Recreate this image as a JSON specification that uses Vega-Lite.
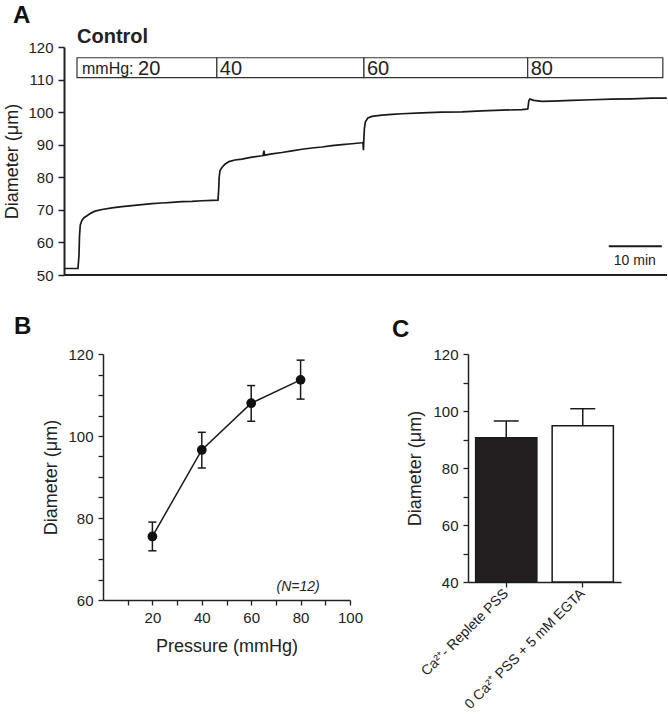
{
  "$schema": "https://vega.github.io/schema/vega-lite/v6.json",
  "padding": {"left": 3, "top": 4, "right": 0, "bottom": 0},
  "background": "white",
  "config": {
    "font": "Liberation Sans",
    "view": {"stroke": null},
    "axis": {"labelColor": "#222", "titleColor": "#222", "domainColor": "#222", "tickColor": "#222", "grid": false, "labelFont": "Liberation Sans", "titleFont": "Liberation Sans", "titleFontWeight": "normal", "labelFlush": false, "labelOverlap": false, "tickCount": 40},
    "title": {"color": "#111", "font": "Liberation Sans"}
  },
  "spacing": 32,
  "vconcat": [
    {
      "width": 564,
      "height": 228,
      "title": {"text": "A", "anchor": "start", "frame": "group", "dx": -90, "fontSize": 24, "fontWeight": "bold", "offset": -1},
      "layer": [
        {
          "data": {"values": [
            {"t": 0, "d": 52}, {"t": 2.69, "d": 52}, {"t": 2.88, "d": 56}, {"t": 2.98, "d": 62}, {"t": 3.13, "d": 65.4}, {"t": 3.46, "d": 66.8}, {"t": 3.85, "d": 67.6}, {"t": 4.42, "d": 68.2}, {"t": 5.19, "d": 69}, {"t": 5.96, "d": 69.6}, {"t": 7.31, "d": 70.1}, {"t": 9.23, "d": 70.6}, {"t": 11.15, "d": 71}, {"t": 13.08, "d": 71.3}, {"t": 15.0, "d": 71.6}, {"t": 16.92, "d": 71.9}, {"t": 18.85, "d": 72.1}, {"t": 20.77, "d": 72.3}, {"t": 22.69, "d": 72.5}, {"t": 24.62, "d": 72.6}, {"t": 26.54, "d": 72.8}, {"t": 28.46, "d": 72.9}, {"t": 29.62, "d": 73},
            {"t": 29.75, "d": 76}, {"t": 29.85, "d": 80}, {"t": 30.0, "d": 82}, {"t": 30.38, "d": 83}, {"t": 30.96, "d": 84}, {"t": 31.73, "d": 84.8}, {"t": 32.88, "d": 85.3}, {"t": 34.23, "d": 85.6}, {"t": 36.15, "d": 86.2}, {"t": 38.08, "d": 86.6}, {"t": 38.3, "d": 86.7}, {"t": 38.46, "d": 88.2}, {"t": 38.6, "d": 86.8}, {"t": 40.0, "d": 87.2}, {"t": 41.92, "d": 87.6}, {"t": 43.85, "d": 88.1}, {"t": 45.77, "d": 88.6}, {"t": 47.69, "d": 89}, {"t": 49.62, "d": 89.3}, {"t": 51.54, "d": 89.7}, {"t": 53.46, "d": 90}, {"t": 55.38, "d": 90.3}, {"t": 57.31, "d": 90.6}, {"t": 57.5, "d": 90.7},
            {"t": 57.6, "d": 88.3}, {"t": 57.69, "d": 92}, {"t": 57.79, "d": 95}, {"t": 57.98, "d": 97}, {"t": 58.46, "d": 98.2}, {"t": 59.23, "d": 98.7}, {"t": 61.15, "d": 99.1}, {"t": 63.08, "d": 99.3}, {"t": 65.0, "d": 99.5}, {"t": 68.85, "d": 99.8}, {"t": 72.69, "d": 100}, {"t": 76.54, "d": 100.1}, {"t": 80.38, "d": 100.4}, {"t": 84.23, "d": 100.6}, {"t": 88.08, "d": 100.8}, {"t": 89.04, "d": 100.9}, {"t": 89.23, "d": 101},
            {"t": 89.42, "d": 103.5}, {"t": 89.62, "d": 104}, {"t": 90.38, "d": 103.6}, {"t": 91.92, "d": 103.3}, {"t": 93.85, "d": 103.4}, {"t": 97.69, "d": 103.6}, {"t": 101.54, "d": 103.8}, {"t": 105.38, "d": 104}, {"t": 109.23, "d": 104.1}, {"t": 113.08, "d": 104.3}, {"t": 115.96, "d": 104.3}
          ]},
          "mark": {"type": "line", "color": "#1a1a1a", "strokeWidth": 1.7},
          "encoding": {
            "x": {"field": "t", "type": "quantitative", "scale": {"domain": [7.5, 116], "nice": false, "zero": false}, "axis": {"title": null, "ticks": false, "labels": false, "domain": false}},
            "y": {"field": "d", "type": "quantitative", "scale": {"domain": [50, 120], "nice": false, "zero": false}, "axis": {"title": "Diameter (μm)", "offset": 39, "values": [50, 60, 70, 80, 90, 100, 110, 120], "tickCount": 40, "labelOverlap": false, "labelFontSize": 15, "titleFontSize": 18, "tickSize": 6, "tickWidth": 1.5, "domainWidth": 2, "labelPadding": 5, "titlePadding": 6}}
          }
        },
        {
          "data": {"values": [{"label": "time axis"}]},
          "mark": {"type": "rule", "color": "#222", "strokeWidth": 2},
          "encoding": {
            "x": {"datum": 0},
            "x2": {"datum": 116},
            "y": {"datum": 50}
          }
        },
        {
          "data": {"values": [
            {"start": 2.5, "end": 29.4, "p": "20"},
            {"start": 29.4, "end": 57.7, "p": "40"},
            {"start": 57.7, "end": 89.2, "p": "60"},
            {"start": 89.2, "end": 115.2, "p": "80"}
          ]},
          "layer": [
            {
              "mark": {"type": "rect", "fill": "white", "stroke": "#333", "strokeWidth": 1.2},
              "encoding": {
                "x": {"field": "start", "type": "quantitative"},
                "x2": {"field": "end"},
                "y": {"datum": 110.6},
                "y2": {"datum": 116.7}
              }
            },
            {
              "transform": [{"filter": "datum.p != '20'"}],
              "mark": {"type": "text", "align": "left", "baseline": "alphabetic", "fontSize": 20, "dx": 3, "color": "#222"},
              "encoding": {
                "x": {"field": "start", "type": "quantitative"},
                "y": {"datum": 111.5},
                "text": {"field": "p"}
              }
            },
            {
              "transform": [{"filter": "datum.p == '20'"}],
              "mark": {"type": "text", "align": "left", "baseline": "alphabetic", "fontSize": 20, "dx": 61, "color": "#222"},
              "encoding": {
                "x": {"field": "start", "type": "quantitative"},
                "y": {"datum": 111.5},
                "text": {"field": "p"}
              }
            },
            {
              "transform": [{"filter": "datum.p == '20'"}],
              "mark": {"type": "text", "align": "left", "baseline": "alphabetic", "fontSize": 16, "dx": 5, "color": "#222", "text": "mmHg:"},
              "encoding": {
                "x": {"field": "start", "type": "quantitative"},
                "y": {"datum": 111.6}
              }
            },
            {
              "transform": [{"filter": "datum.p == '20'"}],
              "mark": {"type": "text", "align": "left", "baseline": "alphabetic", "fontSize": 20, "fontWeight": "bold", "color": "#222", "text": "Control"},
              "encoding": {
                "x": {"field": "start", "type": "quantitative"},
                "y": {"datum": 121.1}
              }
            }
          ]
        },
        {
          "data": {"values": [{"from": 104.8, "to": 115.0, "level": 58.8, "label": "10 min", "labelLevel": 53.1}]},
          "layer": [
            {
              "mark": {"type": "rule", "color": "#1a1a1a", "strokeWidth": 2},
              "encoding": {
                "x": {"field": "from", "type": "quantitative"},
                "x2": {"field": "to"},
                "y": {"field": "level", "type": "quantitative"}
              }
            },
            {
              "mark": {"type": "text", "align": "center", "baseline": "alphabetic", "fontSize": 14, "color": "#222", "dx": 26},
              "encoding": {
                "x": {"field": "from", "type": "quantitative"},
                "y": {"field": "labelLevel", "type": "quantitative"},
                "text": {"field": "label"}
              }
            }
          ]
        }
      ]
    },
    {
      "spacing": 29,
      "hconcat": [
        {
          "width": 247,
          "height": 246,
          "title": {"text": "B", "anchor": "start", "frame": "group", "dx": -89, "fontSize": 24, "fontWeight": "bold", "offset": 8},
          "layer": [
            {
              "data": {"values": [
                {"p": 20, "mean": 75.5, "lo": 72.0, "hi": 79.0},
                {"p": 40, "mean": 96.6, "lo": 92.2, "hi": 100.9},
                {"p": 60, "mean": 108.0, "lo": 103.6, "hi": 112.3},
                {"p": 80, "mean": 113.7, "lo": 109.0, "hi": 118.5}
              ]},
              "layer": [
                {
                  "mark": {"type": "line", "color": "#1a1a1a", "strokeWidth": 1.5},
                  "encoding": {
                    "x": {"field": "p", "type": "quantitative", "scale": {"domain": [0, 100], "nice": false}, "axis": {"title": "Pressure (mmHg)", "values": [10, 20, 30, 40, 50, 60, 70, 80, 90, 100], "tickCount": 40, "labelOverlap": false, "labelExpr": "datum.value % 20 === 0 ? datum.label : ''", "labelFontSize": 15, "titleFontSize": 18, "tickSize": 5, "tickWidth": 1.3, "domainWidth": 1.5, "labelPadding": 5, "titlePadding": 12}},
                    "y": {"field": "mean", "type": "quantitative", "scale": {"domain": [60, 120], "nice": false, "zero": false}, "axis": {"title": "Diameter (μm)", "values": [60, 65, 70, 75, 80, 85, 90, 95, 100, 105, 110, 115, 120], "tickCount": 40, "labelOverlap": false, "labelExpr": "datum.value % 20 === 0 ? datum.label : ''", "labelFontSize": 15, "titleFontSize": 18, "tickSize": 5, "tickWidth": 1.3, "domainWidth": 1.5, "labelPadding": 5, "titlePadding": 7}}
                  }
                },
                {
                  "mark": {"type": "rule", "color": "#1a1a1a", "strokeWidth": 1.5},
                  "encoding": {
                    "x": {"field": "p", "type": "quantitative"},
                    "y": {"field": "lo", "type": "quantitative"},
                    "y2": {"field": "hi"}
                  }
                },
                {
                  "mark": {"type": "tick", "orient": "horizontal", "size": 8, "thickness": 1.5, "color": "#1a1a1a", "opacity": 1},
                  "encoding": {
                    "x": {"field": "p", "type": "quantitative"},
                    "y": {"field": "lo", "type": "quantitative"}
                  }
                },
                {
                  "mark": {"type": "tick", "orient": "horizontal", "size": 8, "thickness": 1.5, "color": "#1a1a1a", "opacity": 1},
                  "encoding": {
                    "x": {"field": "p", "type": "quantitative"},
                    "y": {"field": "hi", "type": "quantitative"}
                  }
                },
                {
                  "mark": {"type": "point", "filled": true, "shape": "circle", "size": 95, "color": "#111", "opacity": 1},
                  "encoding": {
                    "x": {"field": "p", "type": "quantitative"},
                    "y": {"field": "mean", "type": "quantitative"}
                  }
                }
              ]
            },
            {
              "data": {"values": [{"label": "(N=12)", "px": 79, "py": 62.3}]},
              "mark": {"type": "text", "fontStyle": "italic", "fontSize": 14, "align": "center", "baseline": "alphabetic", "color": "#222"},
              "encoding": {
                "x": {"field": "px", "type": "quantitative"},
                "y": {"field": "py", "type": "quantitative"},
                "text": {"field": "label"}
              }
            }
          ]
        },
        {
          "width": 153,
          "height": 228,
          "title": {"text": "C", "anchor": "start", "frame": "group", "dx": -76, "fontSize": 24, "fontWeight": "bold", "offset": 5},
          "data": {"values": [
            {"cond": "Ca²⁺- Replete PSS", "mean": 90.6, "upper": 96.5},
            {"cond": "0 Ca²⁺ PSS + 5 mM EGTA", "mean": 94.8, "upper": 100.8}
          ]},
          "layer": [
            {
              "mark": {"type": "bar", "stroke": "#1a1a1a", "strokeWidth": 1.5},
              "encoding": {
                "x": {"field": "cond", "type": "nominal", "sort": null, "scale": {"paddingInner": 0.2, "paddingOuter": 0.1}, "axis": {"title": null, "labelAngle": -45, "labelAlign": "right", "labelBaseline": "middle", "labelOverlap": false, "labelFontSize": 14, "tickSize": 5, "tickWidth": 1.3, "domainWidth": 1.5, "labelPadding": 4}},
                "y": {"field": "mean", "type": "quantitative", "scale": {"domain": [40, 120], "nice": false, "zero": false}, "axis": {"title": "Diameter (μm)", "values": [40, 50, 60, 70, 80, 90, 100, 110, 120], "tickCount": 40, "labelOverlap": false, "labelExpr": "datum.value % 20 === 0 ? datum.label : ''", "labelFontSize": 15, "titleFontSize": 18, "tickSize": 5, "tickWidth": 1.3, "domainWidth": 1.5, "labelPadding": 5, "titlePadding": 8}},
                "y2": {"datum": 40},
                "color": {"field": "cond", "type": "nominal", "sort": null, "scale": {"range": ["#231f20", "#ffffff"]}, "legend": null}
              }
            },
            {
              "mark": {"type": "rule", "color": "#1a1a1a", "strokeWidth": 1.5},
              "encoding": {
                "x": {"field": "cond", "type": "nominal", "sort": null},
                "y": {"field": "mean", "type": "quantitative"},
                "y2": {"field": "upper"}
              }
            },
            {
              "mark": {"type": "tick", "orient": "horizontal", "size": 25, "thickness": 1.5, "color": "#1a1a1a", "opacity": 1},
              "encoding": {
                "x": {"field": "cond", "type": "nominal", "sort": null},
                "y": {"field": "upper", "type": "quantitative"}
              }
            }
          ]
        }
      ]
    }
  ]
}
